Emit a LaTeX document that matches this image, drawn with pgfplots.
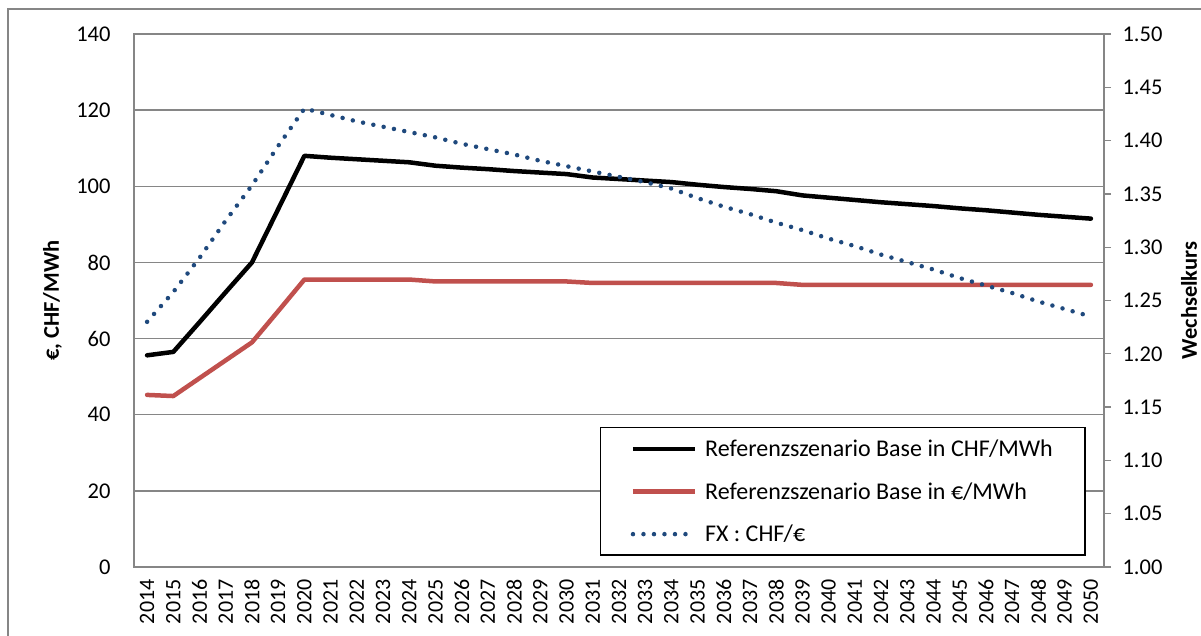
\documentclass[border=0pt]{standalone}
\usepackage{fontspec}
\setmainfont{Carlito}
\usepackage{pgfplots}
\usepackage{pgfplotstable}
\pgfplotsset{compat=1.18}

\definecolor{gridgray}{RGB}{134,134,134}
\definecolor{chfblack}{RGB}{0,0,0}
\definecolor{eurred}{RGB}{192,80,77}
\definecolor{fxblue}{RGB}{31,73,125}

\newcommand{\chartfont}{\fontsize{22.5}{26}\selectfont}
\newcommand{\yearfont}{\fontsize{22}{26}\selectfont}
\newcommand{\legfont}{\fontsize{24}{28}\selectfont}

% year, CHF/MWh, EUR/MWh, FX CHF/EUR
\pgfplotstableread{
year chf  eur  fx
2014 55.6 45.2 1.230
2015 56.5 44.9 1.258
2016 64.3 49.6 1.290
2017 72.2 54.3 1.325
2018 80.0 59.0 1.358
2019 94.0 67.2 1.395
2020 108.0 75.5 1.430
2021 107.5 75.5 1.424
2022 107.1 75.5 1.418
2023 106.7 75.5 1.413
2024 106.3 75.5 1.408
2025 105.4 75.0 1.403
2026 104.9 75.0 1.397
2027 104.5 75.0 1.392
2028 104.0 75.0 1.387
2029 103.6 75.0 1.381
2030 103.2 75.0 1.376
2031 102.3 74.6 1.371
2032 101.9 74.6 1.366
2033 101.5 74.6 1.361
2034 101.1 74.6 1.355
2035 100.4 74.6 1.346
2036 99.8 74.6 1.338
2037 99.3 74.6 1.331
2038 98.7 74.6 1.323
2039 97.6 74.1 1.316
2040 97.0 74.1 1.308
2041 96.4 74.1 1.301
2042 95.8 74.1 1.293
2043 95.3 74.1 1.286
2044 94.8 74.1 1.279
2045 94.2 74.1 1.271
2046 93.7 74.1 1.264
2047 93.1 74.1 1.257
2048 92.5 74.1 1.249
2049 92.0 74.1 1.242
2050 91.5 74.1 1.235
}\prices

\begin{document}
\begin{tikzpicture}[x=1pt,y=1pt]
\useasboundingbox (0,0) rectangle (1201,636);
\draw[gridgray, line width=1.3pt] (8,-10) -- (8,627) -- (1215,627);

\pgfplotsset{
  base/.style={
    at={(134pt,69pt)}, anchor=south west,
    width=970pt, height=533pt, scale only axis,
    xmin=2013.5, xmax=2050.5,
    tick label style={font=\chartfont, /pgf/number format/assume math mode=true},
    label style={font=\chartfont\bfseries},
  },
}

\begin{axis}[
  base,
  ymin=0, ymax=140,
  xtick={2014,...,2050},
  ytick={0,20,...,140},
  xtick pos=bottom, ytick pos=left,
  major tick length=0pt,
  axis line style={draw=gridgray, line width=1.3pt},
  ymajorgrids,
  grid style={draw=gridgray, line width=1.3pt},
  xticklabel style={font=\yearfont, rotate=90, anchor=east, xshift=-9pt, /pgf/number format/1000 sep=},
  yticklabel style={xshift=-20pt},
  ylabel={€, CHF/MWh},
  ylabel style={at={(axis description cs:-0.084,0.5)}, anchor=center},
]
\addplot[chfblack, line width=4.5pt, line join=round, line cap=round] table[x=year, y=chf] {\prices};
\addplot[eurred, line width=4.5pt, line join=round, line cap=round] table[x=year, y=eur] {\prices};
\end{axis}

\begin{axis}[
  base,
  ymin=1, ymax=1.5,
  ytick={1,1.05,1.1,1.15,1.2,1.25,1.3,1.35,1.4,1.45,1.5},
  axis x line=none,
  axis y line*=right,
  y axis line style={draw=gridgray, line width=1.3pt, -},
  tick align=outside,
  major tick length=7pt,
  ytick style={draw=gridgray, line width=1.3pt},
  yticklabel style={xshift=8pt, /pgf/number format/.cd, fixed, fixed zerofill, precision=2},
  ylabel={Wechselkurs},
  ylabel style={at={(axis description cs:1.0876,0.5)}, anchor=center, inner sep=0pt},
  legend style={
    at={(0.4804,0.2627)}, anchor=north west,
    draw=black, line width=1.5pt, fill=white,
    font=\legfont, inner xsep=30pt, inner ysep=10pt,
    row sep=20.5pt,
    legend cell align=left,
  },
  legend image code/.code={\draw[#1] (8pt,0pt) -- (70pt,0pt); \path (76pt,0pt);},
]
\addlegendimage{chfblack, line width=4.5pt}
\addlegendentry{Referenzszenario Base in CHF/MWh}
\addlegendimage{eurred, line width=4.5pt}
\addlegendentry{Referenzszenario Base in €/MWh}
\addplot[fxblue, line width=4.5pt, line cap=round, dash pattern=on 0pt off 10.5pt] table[x=year, y=fx] {\prices};
\addlegendentry{FX : CHF/€}
\end{axis}
\end{tikzpicture}
\end{document}
